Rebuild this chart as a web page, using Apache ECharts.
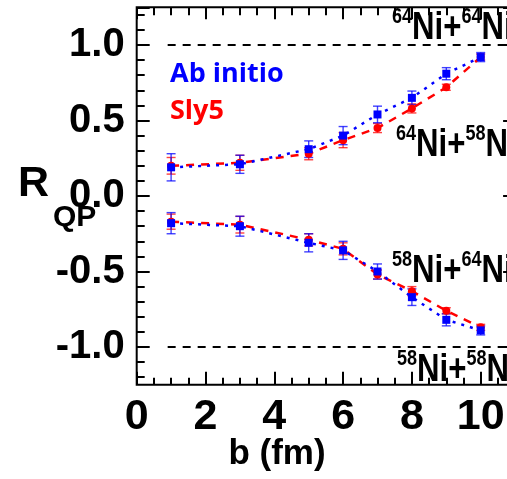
<!DOCTYPE html>
<html>
<head>
<meta charset="utf-8">
<script src="https://cdn.jsdelivr.net/npm/echarts@6/dist/echarts.min.js"></script>
<style>
  html, body { margin: 0; padding: 0; background: #ffffff; }
  #chart { width: 507px; height: 479px; }
</style>
</head>
<body>
<div id="chart"></div>
<script>
// Impact parameter b (fm)
const impactParams = [1, 3, 5, 6, 7, 8, 9, 10];

// 64Ni+58Ni system (positive branch)
const abInitioUpper    = [0.19, 0.21, 0.31, 0.40, 0.54, 0.65, 0.81, 0.92];
const abInitioUpperErr = [0.09, 0.06, 0.055, 0.06, 0.055, 0.045, 0.04, 0.03];
const sly5Upper        = [0.20, 0.22, 0.28, 0.37, 0.45, 0.58, 0.72, 0.92];
const sly5UpperErr     = [0.055, 0.05, 0.04, 0.05, 0.03, 0.03, 0.02, 0.02];

// 58Ni+64Ni system (negative branch)
const abInitioLower    = [-0.18, -0.20, -0.31, -0.36, -0.50, -0.67, -0.82, -0.89];
const abInitioLowerErr = [0.07, 0.066, 0.06, 0.06, 0.05, 0.055, 0.04, 0.03];
const sly5Lower        = [-0.17, -0.19, -0.29, -0.35, -0.52, -0.63, -0.76, -0.87];
const sly5LowerErr     = [0.05, 0.055, 0.04, 0.04, 0.03, 0.03, 0.02, 0.02];

// Symmetric limits R = +1 (64Ni+64Ni) and R = -1 (58Ni+58Ni)
const limitValues = [1.0, -1.0];
const limitSpan = [0.9, 11];

// Axis ranges and tick spacing
const bRange = [0, 11];
const bMajor = 2, bMinor = 0.5;
const rRange = [-1.25, 1.25];
const rMajorMin = -1.0, rMajor = 0.5;
const rMinorMin = -1.2, rMinor = 0.1;
const rLabels = ['-1.0', '-0.5', '0.0', '0.5', '1.0'];

const BLUE = '#0000ff';
const RED = '#ff0000';
const FONT = 'Liberation Sans';
const LEGEND_FONT = { fontFamily: "'Open Sans'", fontWeight: 'bold', fontSize: 27 };

// Plot frame in pixels
const plot = { left: 136.7, top: 7.25, width: 378.4, height: 377.5 };

// A grid sharing the plot's top edge whose bottom edge sits on value `lo`,
// so that tick axes starting at `lo` line up with the data axis.
function alignedGrid(lo, extra) {
  const h = plot.height * (rRange[1] - lo) / (rRange[1] - rRange[0]);
  return Object.assign({
    left: plot.left, top: plot.top, width: plot.width, height: h,
    containLabel: false, outerBoundsMode: 'none'
  }, extra || {});
}

function zip(xs, ys) { return xs.map((x, i) => [x, ys[i]]); }
function errData(xs, ys, es) { return xs.map((x, i) => [x, ys[i] - es[i], ys[i] + es[i]]); }

function errorBarSeries(name, data, color, opacity) {
  return {
    type: 'custom', name: name, xAxisIndex: 0, yAxisIndex: 0,
    data: data, encode: { x: 0, y: [1, 2] }, silent: true,
    renderItem: function (params, api) {
      const x = api.value(0);
      const lo = api.coord([x, api.value(1)]);
      const hi = api.coord([x, api.value(2)]);
      const cap = 4.5;
      const style = { stroke: color, lineWidth: 1.4, opacity: opacity };
      return {
        type: 'group',
        children: [
          { type: 'line', shape: { x1: hi[0], y1: hi[1], x2: lo[0], y2: lo[1] }, style: style },
          { type: 'line', shape: { x1: hi[0] - cap, y1: hi[1], x2: hi[0] + cap, y2: hi[1] }, style: style },
          { type: 'line', shape: { x1: lo[0] - cap, y1: lo[1], x2: lo[0] + cap, y2: lo[1] }, style: style }
        ]
      };
    }
  };
}

function curveSeries(name, data, color, symbol, dash) {
  return {
    type: 'line', name: name, xAxisIndex: 0, yAxisIndex: 0, data: data,
    symbol: symbol, symbolSize: 8, showSymbol: true,
    itemStyle: { color: color },
    lineStyle: { color: color, width: 2.5, type: dash },
    emphasis: { disabled: true }
  };
}

function limitSeries(v) {
  return {
    type: 'line', xAxisIndex: 0, yAxisIndex: 0, silent: true,
    data: [[limitSpan[0], v], [limitSpan[1], v]],
    symbol: 'none',
    lineStyle: { color: '#000', width: 2, type: [8, 7] }
  };
}

const hiddenX = { type: 'value', show: false, min: bRange[0], max: bRange[1] };

function tickAxisX(gridIndex, position, interval, len, labels) {
  return {
    type: 'value', gridIndex: gridIndex, position: position,
    min: bRange[0], max: bRange[1], interval: interval,
    axisLine: { show: false, onZero: false },
    axisTick: { show: true, inside: true, length: len, lineStyle: { color: '#000', width: 2 } },
    splitLine: { show: false },
    axisLabel: labels ? {
      show: true, margin: 11, color: '#000', fontFamily: FONT, fontWeight: 'bold', fontSize: 43,
      formatter: function (v) { return (v % bMajor === 0 && v <= 10) ? String(v) : ''; }
    } : { show: false }
  };
}

function tickAxisY(gridIndex, position, min, interval, len, labels) {
  return {
    type: 'value', gridIndex: gridIndex, position: position,
    min: min, max: rRange[1], interval: interval,
    axisLine: { show: false, onZero: false },
    axisTick: { show: true, inside: true, length: len, lineStyle: { color: '#000', width: 2 } },
    splitLine: { show: false },
    axisLabel: labels ? {
      show: true, margin: 12, color: '#000', fontFamily: FONT, fontWeight: 'bold', fontSize: 40,
      formatter: function (v) {
        const s = v.toFixed(1);
        return rLabels.indexOf(s) >= 0 && Math.abs(v - Number(s)) < 1e-6 ? s : '';
      }
    } : { show: false }
  };
}

// Reaction labels: isotope mass numbers as superscripts, slightly condensed
const reactionRich = {
  s: { fontSize: 22, fontFamily: FONT, fontWeight: 'bold', color: '#000', verticalAlign: 'top', lineHeight: 22 },
  n: { fontSize: 38, fontFamily: FONT, fontWeight: 'bold', color: '#000', verticalAlign: 'bottom', lineHeight: 42 }
};
function reactionLabel(x, top, a, b) {
  return {
    type: 'text', z: 50, x: x, y: top, scaleX: 0.82,
    style: {
      x: 0, y: 0, align: 'left', verticalAlign: 'top', rich: reactionRich,
      text: '{s|' + a + '}{n|Ni+}{s|' + b + '}{n|Ni}'
    }
  };
}

const chart = echarts.init(document.getElementById('chart'), null, { renderer: 'canvas' });

chart.setOption({
  animation: false,
  backgroundColor: '#ffffff',
  grid: [
    Object.assign({}, alignedGrid(rRange[0]), { show: true, borderColor: '#000', borderWidth: 2, backgroundColor: 'transparent' }),
    alignedGrid(rMajorMin),
    alignedGrid(rMinorMin)
  ],
  xAxis: [
    { type: 'value', gridIndex: 0, position: 'bottom', min: bRange[0], max: bRange[1], show: false },
    tickAxisX(0, 'bottom', bMajor, 13, true),
    tickAxisX(0, 'bottom', bMinor, 7, false),
    tickAxisX(0, 'top', bMajor, 12, false),
    tickAxisX(0, 'top', bMinor, 8, false),
    Object.assign({ gridIndex: 1 }, hiddenX),
    Object.assign({ gridIndex: 2 }, hiddenX)
  ],
  yAxis: [
    { type: 'value', gridIndex: 0, min: rRange[0], max: rRange[1], show: false },
    tickAxisY(1, 'left', rMajorMin, rMajor, 13, true),
    tickAxisY(1, 'right', rMajorMin, rMajor, 12, false),
    tickAxisY(2, 'left', rMinorMin, rMinor, 8, false),
    tickAxisY(2, 'right', rMinorMin, rMinor, 7, false)
  ],
  legend: {
    orient: 'vertical', left: 159, top: 56,
    itemWidth: 0, itemHeight: 0, itemGap: 10,
    selectedMode: false,
    itemStyle: { opacity: 0 }, lineStyle: { opacity: 0 },
    textStyle: LEGEND_FONT,
    data: [
      { name: 'Ab initio', textStyle: Object.assign({ color: BLUE }, LEGEND_FONT) },
      { name: 'Sly5', textStyle: Object.assign({ color: RED }, LEGEND_FONT) }
    ]
  },
  graphic: [
    reactionLabel(392, 6, '64', '64'),
    reactionLabel(396, 123, '64', '58'),
    reactionLabel(392, 249, '58', '64'),
    reactionLabel(397, 348, '58', '58'),
    { type: 'text', z: 50, style: { x: 18, y: 163, text: 'R', fill: '#000', font: 'bold 43px "Liberation Sans"', align: 'left', verticalAlign: 'top' } },
    { type: 'text', z: 50, style: { x: 53, y: 203, text: 'QP', fill: '#000', font: 'bold 30px "Liberation Sans"', align: 'left', verticalAlign: 'top' } },
    { type: 'text', z: 50, style: { x: 277, y: 437, text: 'b (fm)', fill: '#000', font: 'bold 35px "Liberation Sans"', align: 'center', verticalAlign: 'top' } }
  ],
  series: [
    limitSeries(limitValues[0]),
    limitSeries(limitValues[1]),
    errorBarSeries('Sly5 error', errData(impactParams, sly5Upper, sly5UpperErr), RED, 0.75),
    errorBarSeries('Sly5 error', errData(impactParams, sly5Lower, sly5LowerErr), RED, 0.75),
    curveSeries('Sly5', zip(impactParams, sly5Upper), RED, 'circle', [8, 7]),
    curveSeries('Sly5', zip(impactParams, sly5Lower), RED, 'circle', [8, 7]),
    errorBarSeries('Ab initio error', errData(impactParams, abInitioUpper, abInitioUpperErr), BLUE, 0.75),
    errorBarSeries('Ab initio error', errData(impactParams, abInitioLower, abInitioLowerErr), BLUE, 0.75),
    curveSeries('Ab initio', zip(impactParams, abInitioUpper), BLUE, 'rect', [3, 6]),
    curveSeries('Ab initio', zip(impactParams, abInitioLower), BLUE, 'rect', [3, 6])
  ]
});
</script>
</body>
</html>
